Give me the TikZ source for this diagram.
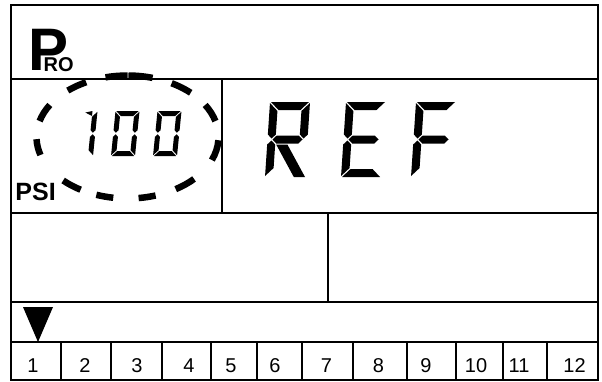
\documentclass[tikz,border=0pt]{standalone}
\usepackage{fontspec}
\setmainfont{Liberation Sans}
% seven-segment geometry (unslanted frame, y up)
\def\ssW{24}\def\ssH{45}\def\ssT{5}\def\ssG{0.8}
\newcommand{\SegA}{\fill (\ssG,\ssH) -- ({\ssW-\ssG},\ssH) -- ({\ssW-\ssT-\ssG},{\ssH-\ssT}) -- ({\ssT+\ssG},{\ssH-\ssT}) -- cycle;}
\newcommand{\SegD}{\fill (\ssG,0) -- ({\ssW-\ssG},0) -- ({\ssW-\ssT-\ssG},\ssT) -- ({\ssT+\ssG},\ssT) -- cycle;}
\newcommand{\SegF}{\fill (0,{\ssH-\ssG}) -- (\ssT,{\ssH-\ssT-\ssG}) -- (\ssT,{\ssH/2+\ssT/2+\ssG}) -- ({\ssT/2},{\ssH/2+\ssG}) -- (0,{\ssH/2+\ssT/2+\ssG}) -- cycle;}
\newcommand{\SegE}{\fill (0,\ssG) -- (\ssT,{\ssT+\ssG}) -- (\ssT,{\ssH/2-\ssT/2-\ssG}) -- ({\ssT/2},{\ssH/2-\ssG}) -- (0,{\ssH/2-\ssT/2-\ssG}) -- cycle;}
\newcommand{\SegB}{\fill (\ssW,{\ssH-\ssG}) -- ({\ssW-\ssT},{\ssH-\ssT-\ssG}) -- ({\ssW-\ssT},{\ssH/2+\ssT/2+\ssG}) -- ({\ssW-\ssT/2},{\ssH/2+\ssG}) -- (\ssW,{\ssH/2+\ssT/2+\ssG}) -- cycle;}
\newcommand{\SegC}{\fill (\ssW,\ssG) -- ({\ssW-\ssT},{\ssT+\ssG}) -- ({\ssW-\ssT},{\ssH/2-\ssT/2-\ssG}) -- ({\ssW-\ssT/2},{\ssH/2-\ssG}) -- (\ssW,{\ssH/2-\ssT/2-\ssG}) -- cycle;}
\newcommand{\SegG}{\fill ({\ssT/2+\ssG},{\ssH/2}) -- ({\ssT+\ssG},{\ssH/2+\ssT/2}) -- ({\ssW-\ssT-\ssG},{\ssH/2+\ssT/2}) -- ({\ssW-\ssT/2-\ssG},{\ssH/2}) -- ({\ssW-\ssT-\ssG},{\ssH/2-\ssT/2}) -- ({\ssT+\ssG},{\ssH/2-\ssT/2}) -- cycle;}
\newcommand{\SegK}{\fill ({\ssT+\ssG},{\ssH/2-\ssT/2-\ssG}) -- ({2.4*\ssT+\ssG},{\ssH/2-\ssT/2-\ssG}) -- (\ssW,0) -- ({\ssW-1.4*\ssT},0) -- cycle;}
\newcommand{\SegFlag}{\fill ({\ssW-\ssT-7},{\ssH-1.5}) -- ({\ssW-\ssT},{\ssH}) -- ({\ssW-\ssT},{\ssH-\ssT}) -- cycle;}
\newcommand{\EllDash}[2]{\draw[elldash] (ec) ++(#1:91pt and 61.5pt) arc[start angle=#1, end angle=#2, x radius=91pt, y radius=61.5pt];}
\tikzset{
  frame/.style={line width=1.6pt, line cap=rect},
  elldash/.style={line width=6.5pt, line cap=butt},
  numlabel/.style={font=\fontsize{20}{20}\selectfont, anchor=base, inner sep=0pt},
  boldlabel/.style={font=\bfseries, anchor=base west, inner sep=0pt},
  hiddentext/.style={text opacity=0, inner sep=0pt},
}
\begin{document}
\begin{tikzpicture}[x=1pt, y=-1pt]
\useasboundingbox (0,0) rectangle (602,381);
% frame
\draw[frame] (11,5) rectangle (598,380);
\draw[frame] (11,79) -- (598,79);
\draw[frame] (11,213) -- (598,213);
\draw[frame] (11,302) -- (598,302);
\draw[frame] (11,342) -- (598,342);
\draw[frame] (222,79) -- (222,213);
\draw[frame] (328,213) -- (328,302);
\foreach \cx in {61,111,162,211,257,302,353,407,456,503,547}
  \draw[frame] (\cx,342) -- (\cx,380);
% P RO label (one text: P with subscript RO tucked under its bowl)
\node[boldlabel, font=\bfseries\fontsize{60}{60}\selectfont] (P) at (28.6,70)
  {P\kern-25.1pt\raisebox{-1.5pt}{\fontsize{20}{20}\selectfont RO}};
\node[boldlabel, font=\bfseries\fontsize{25}{25}\selectfont] (PSI) at (15.2,200) {PSI};
% dashed ellipse
\coordinate (ec) at (127.5,137);
\EllDash{74}{89.4}
\EllDash{89.9}{104}
\EllDash{117}{131}
\EllDash{46}{61}
\EllDash{148.6}{165}
\EllDash{15}{31.4}
\EllDash{182}{197}
\EllDash{-22}{-3}
\EllDash{225}{239}
\EllDash{-58}{-43}
\EllDash{250}{261}
\EllDash{-83}{-72}
% 100 (seven segment)
\def\ssW{24}\def\ssH{45}\def\ssT{5}\def\ssG{0.8}
\begin{scope}[shift={(69,156)}, x=1pt, y=1pt, xslant=0.1]
  \SegB \SegC \SegFlag
\end{scope}
\begin{scope}[shift={(111,156)}, x=1pt, y=1pt, xslant=0.1]
  \SegA \SegB \SegC \SegD \SegE \SegF
\end{scope}
\begin{scope}[shift={(153,156)}, x=1pt, y=1pt, xslant=0.1]
  \SegA \SegB \SegC \SegD \SegE \SegF
\end{scope}
\node[hiddentext, font=\fontsize{60}{60}\selectfont] (val) at (126,133.5) {100};
% REF (seven segment)
\def\ssW{40}\def\ssH{75}\def\ssT{8}\def\ssG{1}
\begin{scope}[shift={(265,177)}, x=1pt, y=1pt, xslant=0.067]
  \SegA \SegB \SegF \SegE \SegG \SegK
\end{scope}
\begin{scope}[shift={(341,177)}, x=1pt, y=1pt, xslant=0.067]
  \SegA \SegD \SegE \SegF \SegG
\end{scope}
\begin{scope}[shift={(411,177)}, x=1pt, y=1pt, xslant=0.067]
  \SegA \SegE \SegF \SegG
\end{scope}
\node[hiddentext, font=\fontsize{95}{95}\selectfont] (msg) at (358,139.5) {REF};
% pointer triangle
\fill (23,307) -- (53,307) -- (38,342) -- cycle;
% cell numbers
\foreach \n/\cx in {1/33,2/85,3/137,4/189,5/231,6/275,7/326.5,8/378.5,9/426,10/476,11/519,12/574.5}
  \node[numlabel] (n\n) at (\cx,372) {\n};
\end{tikzpicture}
\end{document}
